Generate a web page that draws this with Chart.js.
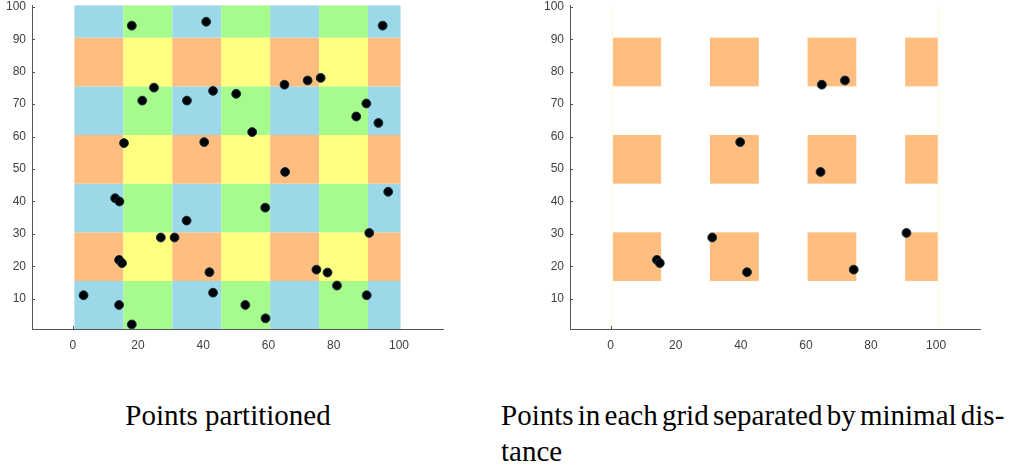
<!DOCTYPE html>
<html>
<head>
<meta charset="utf-8">
<script src="https://cdn.jsdelivr.net/npm/chart.js@4.4.1/dist/chart.umd.min.js"></script>
<style>
  body { margin: 0; background: #fff; width: 1032px; height: 470px; position: relative; overflow: hidden; }
  .box { position: absolute; top: -8px; height: 370px; }
  .cap { position: absolute; font-family: "Liberation Serif", "Times New Roman", serif; font-size: 29px; line-height: 36px; color: #000; white-space: nowrap; }
</style>
</head>
<body>
<div class="box" style="left:0;width:460px"><canvas id="leftChart"></canvas></div>
<div class="box" style="left:520px;width:480px"><canvas id="rightChart"></canvas></div>
<div class="cap" style="left:0;width:456px;top:397px;text-align:center">Points partitioned</div>
<div class="cap" style="left:501px;top:397px;word-spacing:-3px">Points in each grid separated by minimal dis-<br>tance</div>
<script>
(function () {
  "use strict";

  // grid cell edges (same for x and y)
  var cellEdges = [0.5, 15.5, 30.5, 45.5, 60.5, 75.5, 90.5, 100.5];

  var xTicks = [0, 20, 40, 60, 80, 100];
  var yTicks = [10, 20, 30, 40, 50, 60, 70, 80, 90, 100];

  // all points (left panel)
  var allX = [18.1, 40.9, 95.0, 24.9, 21.3, 35.0, 43.0, 50.1, 55.0, 40.3, 15.7, 64.9,
    72.0, 76.0, 90.0, 86.9, 93.7, 65.1, 96.7, 13.0, 14.3, 34.9, 27.0, 31.2,
    14.2, 15.1, 41.9, 59.0, 90.9, 3.3, 14.2, 18.1, 43.0, 52.9, 59.1, 74.7,
    78.1, 81.0, 90.1];
  var allY = [94.2, 95.4, 94.2, 75.1, 71.1, 71.1, 74.1, 73.2, 61.4, 58.3, 58.0, 76.0,
    77.3, 78.1, 70.2, 66.2, 64.2, 49.1, 43.0, 41.0, 40.0, 34.1, 28.9, 28.9,
    22.0, 21.0, 18.2, 38.1, 30.3, 11.1, 8.1, 2.1, 11.9, 8.1, 4.0, 19.0,
    18.1, 14.1, 11.1];

  // points kept in the selected cells (right panel)
  var keptX = [14.2, 15.1, 31.2, 41.9, 39.8, 64.5, 64.9, 72.0, 74.7, 90.9];
  var keptY = [22.0, 21.0, 28.9, 18.2, 58.3, 49.1, 76.0, 77.3, 19.0, 30.3];

  var BLUE = "#9dd8e8", GREEN = "#a6fb8c", ORANGE = "#ffbe80", YELLOW = "#ffff80";
  var AXIS = "#555555", TEXT = "#404040";

  function colorAll(r, c) {
    if (r % 2 === 0) return c % 2 === 0 ? BLUE : GREEN;
    return c % 2 === 0 ? ORANGE : YELLOW;
  }
  function colorKept(r, c) {
    return (r % 2 === 1 && c % 2 === 0) ? ORANGE : null;
  }

  function cellsPlugin(colorOf, edgeLines) {
    return {
      id: "cells",
      beforeDatasetsDraw: function (chart) {
        var ctx = chart.ctx, a = chart.chartArea;
        var x = chart.scales.x, y = chart.scales.y;
        ctx.save();
        ctx.beginPath();
        ctx.rect(a.left, a.top, a.right - a.left, a.bottom - a.top);
        ctx.clip();
        for (var r = 0; r < cellEdges.length - 1; r++) {
          for (var c = 0; c < cellEdges.length - 1; c++) {
            var col = colorOf(r, c);
            if (!col) continue;
            var x0 = x.getPixelForValue(cellEdges[c]);
            var x1 = x.getPixelForValue(cellEdges[c + 1]);
            var y0 = y.getPixelForValue(cellEdges[r + 1]);
            var y1 = y.getPixelForValue(cellEdges[r]);
            ctx.fillStyle = col;
            ctx.fillRect(x0, y0, x1 - x0, y1 - y0);
          }
        }
        if (edgeLines) {
          ctx.strokeStyle = "#fffbd8";
          ctx.lineWidth = 1;
          [cellEdges[0], cellEdges[cellEdges.length - 1]].forEach(function (v) {
            var px = Math.round(x.getPixelForValue(v)) + 0.5;
            ctx.beginPath();
            ctx.moveTo(px, a.top);
            ctx.lineTo(px, a.bottom);
            ctx.stroke();
          });
        }
        ctx.restore();
      },
      afterDraw: function (chart) {
        // inward tick marks on the left axis, and the 0 mark on the bottom axis
        var ctx = chart.ctx, a = chart.chartArea;
        var x = chart.scales.x, y = chart.scales.y;
        ctx.save();
        ctx.strokeStyle = AXIS;
        ctx.lineWidth = 1;
        y.ticks.forEach(function (t) {
          var py = Math.round(y.getPixelForValue(t.value)) + 0.5;
          ctx.beginPath();
          ctx.moveTo(a.left, py);
          ctx.lineTo(a.left + 3, py);
          ctx.stroke();
        });
        var p0 = Math.round(x.getPixelForValue(xTicks[0])) + 0.5;
        ctx.beginPath();
        ctx.moveTo(p0, a.bottom);
        ctx.lineTo(p0, a.bottom - 3);
        ctx.stroke();
        ctx.restore();
      }
    };
  }

  function pts(xs, ys) {
    return xs.map(function (v, i) { return { x: v, y: ys[i] }; });
  }

  function makeChart(el, xs, ys, colorOf, edgeLines, yWidth, rightPad) {
    var tickFont = { family: "'Liberation Sans', Arial, sans-serif", size: 12 };
    return new Chart(el, {
      type: "scatter",
      data: {
        datasets: [{
          data: pts(xs, ys),
          backgroundColor: "#000",
          borderColor: "#0c3040",
          borderWidth: 1,
          pointRadius: 4.4,
          pointHoverRadius: 4.4
        }]
      },
      options: {
        responsive: true,
        maintainAspectRatio: false,
        animation: false,
        events: [],
        layout: { padding: { top: 5, right: rightPad, left: 0, bottom: 0 } },
        plugins: { legend: { display: false }, tooltip: { enabled: false } },
        scales: {
          x: {
            type: "linear",
            min: -12.5,
            max: 113.5,
            afterBuildTicks: function (s) { s.ticks = xTicks.map(function (v) { return { value: v }; }); },
            afterFit: function (s) { s.height = 33; },
            grid: { display: false, drawTicks: false },
            border: { display: true, color: AXIS, width: 1 },
            ticks: { color: TEXT, font: tickFont, padding: 9, maxRotation: 0 }
          },
          y: {
            type: "linear",
            min: 0.7,
            max: 100.5,
            afterBuildTicks: function (s) { s.ticks = yTicks.map(function (v) { return { value: v }; }); },
            afterFit: function (s) { s.width = yWidth; },
            grid: { display: false, drawTicks: false },
            border: { display: true, color: AXIS, width: 1 },
            ticks: { color: TEXT, font: tickFont, padding: 6 }
          }
        }
      },
      plugins: [cellsPlugin(colorOf, edgeLines)]
    });
  }

  if (typeof Chart !== "undefined") {
    makeChart(document.getElementById("leftChart"), allX, allY, colorAll, false, 32, 17);
    makeChart(document.getElementById("rightChart"), keptX, keptY, colorKept, true, 50, 20);
  }
})();
</script>
</body>
</html>
